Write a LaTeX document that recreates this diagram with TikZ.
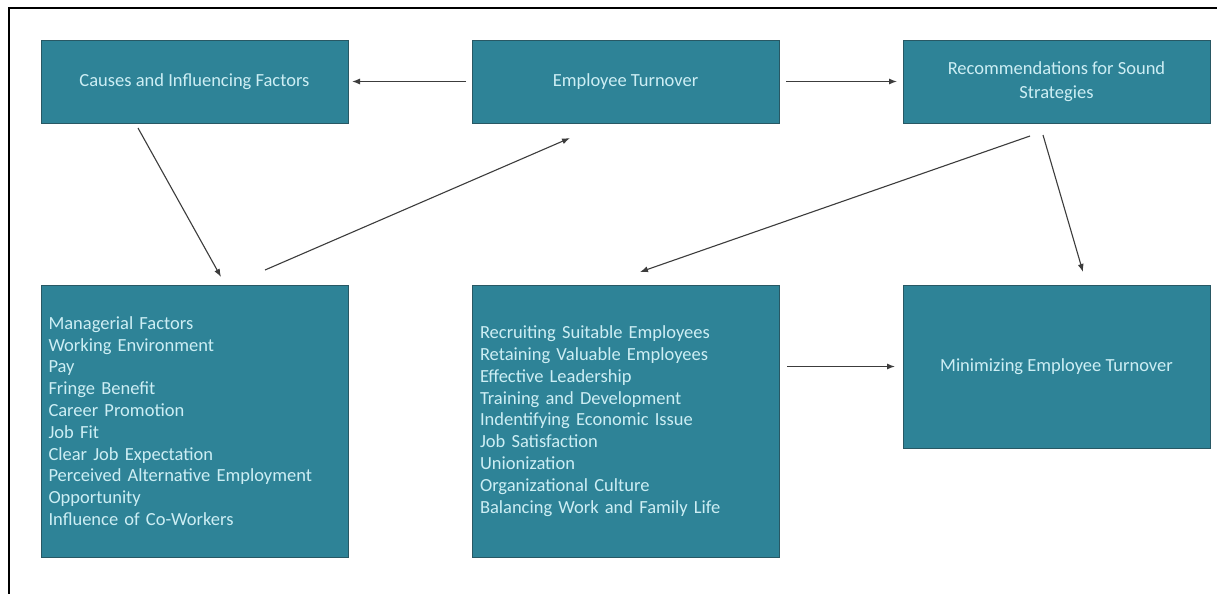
\documentclass[tikz,border=0pt]{standalone}
\usepackage{fontspec}
\setmainfont{Carlito}
\usetikzlibrary{arrows.meta,calc}
\definecolor{boxfill}{RGB}{46,131,151}
\definecolor{boxline}{RGB}{40,88,100}
\definecolor{boxtext}{RGB}{205,238,244}
\definecolor{arrowline}{RGB}{60,60,60}
\tikzset{
  tealbox/.style={draw=boxline, line width=0.8pt, fill=boxfill, text=boxtext,
    font=\fontsize{18.5}{21.8}\selectfont, minimum width=307pt, inner sep=0pt, outer sep=0pt},
  listbox/.style={tealbox, align=left, text width=292pt, minimum height=272pt},
  conn/.style={draw=arrowline, line width=1.1pt, -{Latex[length=8pt,width=6pt]}}
}
\begin{document}
\begin{tikzpicture}[x=1pt,y=-1pt]
\useasboundingbox (0,0) rectangle (1217,594);
\fill[white] (0,0) rectangle (1217,594);
\coordinate (frameTL) at (9,8);
\coordinate (frameTR) at (1217,8);
\coordinate (frameBL) at (9,594);
\draw[black, line width=2pt] (frameTR) -- (frameTL) -- (frameBL);

\node[tealbox, minimum height=83pt, align=center] (causes) at (194.5,81.5) {Causes and Influencing Factors};
\node[tealbox, minimum height=83pt, align=center] (et) at (625.5,81.5) {Employee Turnover};
\node[tealbox, minimum height=83pt, align=center, font=\fontsize{18.5}{24}\selectfont] (rec) at (1056.5,81.5) {Recommendations for Sound\\Strategies};

\node[listbox] (factors) at (194.5,421) {Managerial Factors\\Working Environment\\Pay\\Fringe Benefit\\Career Promotion\\Job Fit\\Clear Job Expectation\\Perceived Alternative Employment\\Opportunity\\Influence of Co-Workers};
\node[listbox, text width=291pt] (strat) at (625.5,421) {Recruiting Suitable Employees\\Retaining Valuable Employees\\Effective Leadership\\Training and Development\\Indentifying Economic Issue\\Job Satisfaction\\Unionization\\Organizational Culture\\Balancing Work and Family Life};
\node[tealbox, minimum height=163pt, align=center] (min) at (1056.5,366.5) {Minimizing Employee Turnover};

\draw[conn] ([xshift=-6pt]et.west) -- ([xshift=4pt]causes.east);
\draw[conn] ([xshift=7pt]et.east) -- ([xshift=-6pt]rec.west);
\draw[conn] ([xshift=-56.5pt,yshift=-5pt]causes.south) -- ([xshift=26.5pt,yshift=8pt]factors.north);
\draw[conn] ([xshift=70.5pt,yshift=15pt]factors.north) -- ([xshift=-55.5pt,yshift=-15pt]et.south);
\draw[conn] ([xshift=-26.5pt,yshift=-13pt]rec.south) -- ([xshift=14.5pt,yshift=13pt]strat.north);
\draw[conn] ([xshift=-13.5pt,yshift=-12pt]rec.south) -- ([xshift=26.5pt,yshift=13pt]min.north);
\draw[conn] ($(strat.east |- min.west)+(8,0)$) -- ([xshift=-8pt]min.west);
\end{tikzpicture}
\end{document}
